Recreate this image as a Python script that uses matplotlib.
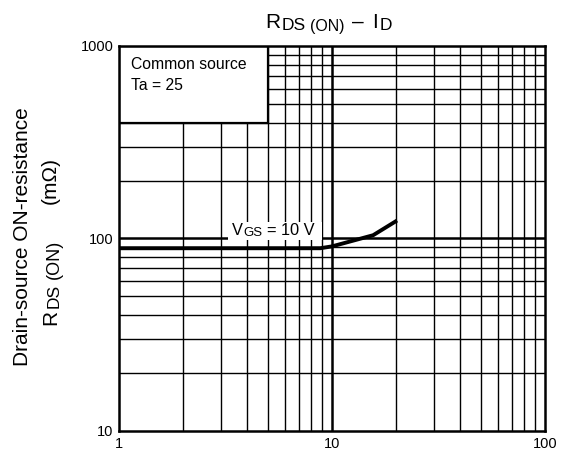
import numpy as np
import matplotlib.pyplot as plt
from matplotlib.patches import Rectangle
from matplotlib.transforms import IdentityTransform
from matplotlib.ticker import FixedLocator, NullFormatter

plt.rcParams['font.family'] = ['Liberation Sans', 'DejaVu Sans']

# I_D (A) vs R_DS(ON) (mOhm)
drain_current = [1, 3, 6, 8.8, 10, 15.6, 20.2]
r_ds_on = [89, 89, 89, 89, 91, 104, 124]

x_ticks = [1, 10, 100]
y_ticks = [10, 100, 1000]

W, H = 564, 457
fig = plt.figure(figsize=(W / 100, H / 100), dpi=100)
ax = fig.add_axes([119 / W, 1 - 431 / H, 426 / W, 385 / H])
rend = fig.canvas.get_renderer()


def rich(x0, y0, pieces, rotation=0, z=4):
    # pieces: (text, fontsize, baseline drop px, gap px before); x0/y0 from top-left
    pos = 0
    for s, size, drop, gap in pieces:
        pos += gap
        if rotation == 0:
            x, y = x0 + pos, H - y0 - drop
        else:
            x, y = x0 + drop, H - y0 + pos
        t = fig.text(x, y, s, fontsize=size, rotation=rotation, rotation_mode='anchor',
                     ha='left', va='baseline', transform=IdentityTransform(), zorder=z)
        bb = t.get_window_extent(rend)
        pos += bb.width if rotation == 0 else bb.height
    return pos


ax.set_xscale('log')
ax.set_yscale('log')
ax.set_xlim(1, 100)
ax.set_ylim(10, 1000)

# grid: minor lines thin, decades thicker
for v in [m * 10 ** e for e in range(0, 2) for m in range(2, 10)]:
    ax.axvline(v, color='black', lw=1.0, zorder=1)
for v in [m * 10 ** e for e in range(1, 3) for m in range(2, 10)]:
    ax.axhline(v, color='black', lw=1.0, zorder=1)
ax.axvline(10, color='black', lw=1.8, zorder=1)
ax.axhline(100, color='black', lw=1.8, zorder=1)

ax.xaxis.set_major_locator(FixedLocator(x_ticks))
ax.yaxis.set_major_locator(FixedLocator(y_ticks))
ax.xaxis.set_minor_formatter(NullFormatter())
ax.yaxis.set_minor_formatter(NullFormatter())
ax.set_xticklabels([str(v) for v in x_ticks])
ax.set_yticklabels([str(v) for v in y_ticks])
ax.tick_params(which='both', length=0, labelsize=10.5, pad=4)
for s in ax.spines.values():
    s.set_linewidth(1.8)
    s.set_zorder(5)

# legend box covering the grid in the upper left
ax.fill_between([1, 5], 400, 1000, facecolor='white', edgecolor='black', lw=1.6, zorder=3)
ax.text(1.14, 806, 'Common source', fontsize=11.3, va='center', zorder=4)
ax.text(1.14, 627, 'Ta = 25', fontsize=11.3, va='center', zorder=4)

ax.plot(drain_current, r_ds_on, color='black', lw=2.8, zorder=4, solid_capstyle='butt')

# V_GS label on a white patch
fig.add_artist(Rectangle((228, H - 240), 94, 18, facecolor='white', edgecolor='none',
                         transform=IdentityTransform(), zorder=3))
rich(232, 235, [('V', 11.8, 0, 0), ('GS', 9.5, 1, 1), ('= 10 V', 11.8, 0, 4)])

# title
rich(265, 28, [('R', 15, 0, 0), ('DS', 12.5, 2.5, 1.5), ('(ON)', 11.5, 2.5, 4),
               ('–', 15, 0, 8), ('I', 15, 0, 8), ('D', 12.5, 2.5, 1.5)])

# y label, two rotated lines
fig.text(28, H - 237, 'Drain-source ON-resistance', fontsize=15, rotation=90,
         rotation_mode='anchor', ha='center', va='baseline', transform=IdentityTransform())
rich(56, 325, [('R', 15, 0, 0), ('DS', 12.5, 2.5, 1.5), ('(ON)', 13, 2.5, 5)], rotation=90)
fig.text(56, H - 157, '(mΩ)', fontsize=15, rotation=90, rotation_mode='anchor',
         ha='right', va='baseline', transform=IdentityTransform())

plt.savefig('out.png', dpi=100)
